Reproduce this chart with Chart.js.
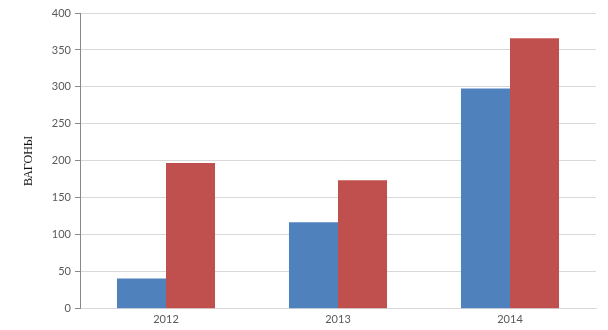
<!DOCTYPE html>
<html>
<head>
<meta charset="utf-8">
<script src="https://cdn.jsdelivr.net/npm/chart.js@4"></script>
<style>
  html, body { margin: 0; padding: 0; background: #fff; }
  #wrap { width: 608px; height: 330px; position: relative; }
</style>
</head>
<body>
<div id="wrap"><canvas id="chart"></canvas></div>
<script>
// --- DONNEES ---
const years = ['2012', '2013', '2014'];
const serieBleue = [41, 117, 298];
const serieRouge = [197, 174, 366];
const yTicks = [0, 50, 100, 150, 200, 250, 300, 350, 400];
const yTitle = 'ВАГОНЫ';

// --- GRAPHIQUE ---
new Chart(document.getElementById('chart').getContext('2d'), {
    type: 'bar',
    data: {
        labels: years,
        datasets: [
            { label: 'A', data: serieBleue, backgroundColor: '#4f81bd', categoryPercentage: 0.57, barPercentage: 1 },
            { label: 'B', data: serieRouge, backgroundColor: '#c0504d', categoryPercentage: 0.57, barPercentage: 1 }
        ]
    },
    options: {
        responsive: true,
        maintainAspectRatio: false,
        animation: false,
        layout: { padding: { top: 13, right: 12, bottom: 0, left: 22 } },
        plugins: { legend: { display: false }, tooltip: { enabled: false } },
        scales: {
            x: {
                grid: { display: false, drawTicks: false },
                border: { display: true, color: '#d9d9d9' },
                ticks: { color: '#595959', font: { family: 'Lato', size: 11 }, padding: 4 },
            },
            y: {
                min: 0, max: 400,
                afterBuildTicks: axis => { axis.ticks = yTicks.map(v => ({ value: v })); },
                afterFit: axis => { axis.width = 58; },
                grid: { color: '#d9d9d9', tickColor: '#888888', tickLength: 5 },
                border: { color: '#888888' },
                ticks: { color: '#595959', font: { family: 'Lato', size: 11 }, padding: 4 },
                title: { display: true, text: yTitle, color: '#111', font: { family: 'Liberation Serif', size: 12, weight: 'normal' }, padding: { top: 0, bottom: 0 } }
            }
        }
    }
});
</script>
</body>
</html>
